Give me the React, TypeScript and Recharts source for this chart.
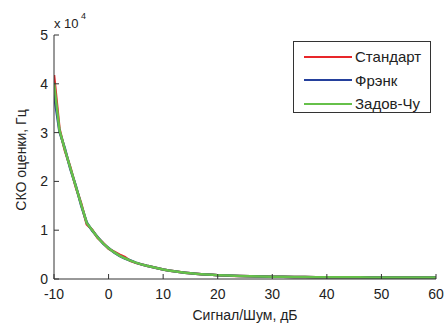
import React from 'react';
import { LineChart, Line, XAxis, YAxis, Legend, Label } from 'recharts';

const snr = [-10, -9, -8, -7, -6, -5, -4, -3, -2, -1, 0, 1, 2, 3, 4, 5, 6, 7, 8, 9, 10, 11, 12, 13, 14, 15, 16, 17, 18, 19, 20, 22, 24, 26, 28, 30, 32, 34, 36, 38, 40, 42, 44, 46, 48, 50, 52, 54, 56, 58, 60];

const standart = [41800, 30800, 26300, 22900, 18800, 15400, 11200, 10100, 8400, 7400, 6200, 5600, 5000, 4500, 3700, 3300, 3000, 2700, 2450, 2200, 1950, 1760, 1580, 1440, 1300, 1180, 1080, 990, 910, 850, 790, 690, 620, 570, 520, 460, 440, 420, 400, 380, 360, 350, 340, 335, 330, 325, 320, 315, 310, 305, 300];
const frank = [37800, 30200, 26700, 22500, 19100, 15000, 11600, 9900, 8600, 7250, 6350, 5450, 4750, 4200, 3800, 3350, 3000, 2700, 2450, 2200, 1950, 1740, 1590, 1430, 1300, 1180, 1080, 990, 910, 850, 790, 700, 630, 580, 530, 460, 440, 420, 400, 380, 360, 350, 340, 335, 330, 325, 320, 315, 310, 305, 300];
const zadoffChu = [40200, 30500, 26500, 22700, 19000, 15200, 11500, 10000, 8500, 7300, 6300, 5500, 4800, 4250, 3750, 3350, 3000, 2700, 2450, 2200, 1950, 1750, 1580, 1430, 1300, 1180, 1080, 990, 910, 850, 790, 700, 630, 580, 530, 460, 440, 420, 400, 380, 360, 350, 340, 335, 330, 325, 320, 315, 310, 305, 300];

const seriesNames = ['Стандарт', 'Фрэнк', 'Задов-Чу'];
const seriesKeys = ['standart', 'frank', 'zadoffChu'];
const seriesColors = ['#e8262a', '#24409c', '#66c04a'];
const xTicks = [-10, 0, 10, 20, 30, 40, 50, 60];
const yTicks = [0, 10000, 20000, 30000, 40000, 50000];

const data = snr.map((x, i) => ({ x, standart: standart[i], frank: frank[i], zadoffChu: zadoffChu[i] }));

const FONT = '"Liberation Sans", Arial, sans-serif';

const LegendBox = () => (
  <div style={{ width: 138, height: 72, border: '1px solid #333', background: '#fff', boxSizing: 'border-box', paddingTop: 3 }}>
    {seriesNames.map((n, i) => (
      <div key={n} style={{ display: 'flex', alignItems: 'center', height: 23.5 }}>
        <div style={{ marginLeft: 10, width: 48, height: 2, background: seriesColors[i] }} />
        <span style={{ marginLeft: 3, fontFamily: FONT, fontSize: 15, color: '#222' }}>{n}</span>
      </div>
    ))}
  </div>
);

export default function App() {
  return (
    <div style={{ position: 'absolute', left: 0, top: 0, width: 444, height: 325, background: '#fff' }}>
      <LineChart width={444} height={325} data={data} margin={{ top: 35, right: 8, bottom: 0, left: 0 }}>
        <XAxis dataKey="x" type="number" domain={[-10, 60]} ticks={xTicks} height={46} tickSize={-5} tickMargin={15}
          stroke="#333" tick={{ fill: '#222', fontSize: 14, fontFamily: FONT }} interval={0} allowDataOverflow>
          <Label value="Сигнал/Шум, дБ" position="insideBottom" offset={5} style={{ fill: '#222', fontSize: 14, fontFamily: FONT }} />
        </XAxis>
        <XAxis xAxisId="top" orientation="top" type="number" domain={[-10, 60]} ticks={xTicks} height={0} tickSize={-5}
          tick={false} stroke="#333" dataKey="x" />
        <YAxis domain={[0, 50000]} ticks={yTicks} width={54} tickSize={-5} tickMargin={11} stroke="#333" interval={0}
          tickFormatter={(v: number) => String(v / 10000)} tick={{ fill: '#222', fontSize: 14, fontFamily: FONT }} />
        <YAxis yAxisId="right" orientation="right" domain={[0, 50000]} ticks={yTicks} width={0} tickSize={-5}
          tick={false} stroke="#333" />
        {seriesKeys.map((k, i) => (
          <Line key={k} dataKey={k} name={seriesNames[i]} stroke={seriesColors[i]} strokeWidth={2.5} dot={false}
            isAnimationActive={false} type="linear" />
        ))}
        <Legend layout="vertical" align="center" verticalAlign="middle" content={() => <LegendBox />}
          wrapperStyle={{ position: 'absolute', left: 293, top: 41, width: 138, height: 72 }} />
        <text x={21} y={160} transform="rotate(-90 21 160)" textAnchor="middle" dominantBaseline="central"
          style={{ fill: '#222', fontSize: 14, fontFamily: FONT }}>СКО оценки, Гц</text>
        <text x={54} y={28} style={{ fill: '#222', fontSize: 13, fontFamily: FONT }}>x 10</text>
        <text x={81} y={19} style={{ fill: '#222', fontSize: 9, fontFamily: FONT }}>4</text>
      </LineChart>
    </div>
  );
}
